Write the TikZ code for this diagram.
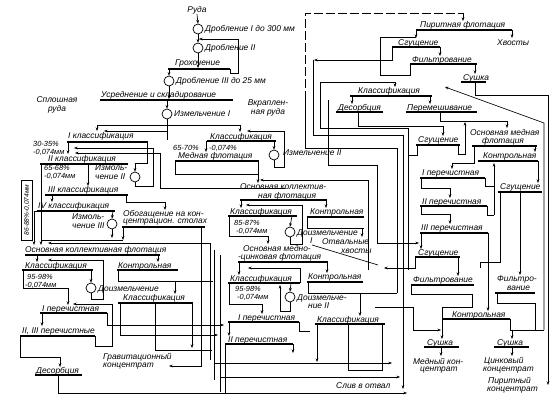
\documentclass[tikz,border=0pt]{standalone}
\usepackage{fontspec}
\setmainfont{Liberation Sans}
\usetikzlibrary{arrows.meta}
\begin{document}
\begin{tikzpicture}[x=1pt,y=-1pt,
 ln/.style={line width=0.65pt},
 ar/.style={line width=0.65pt,-{Stealth[length=3.6pt,width=2.8pt]}},
 br/.style={line width=1.3pt},
 lbl/.style={anchor=west,inner sep=0pt,font=\fontsize{8.4}{9}\selectfont\itshape},
 cl/.style={anchor=center,inner sep=0pt,font=\fontsize{8.4}{9}\selectfont\itshape},
 sm/.style={anchor=west,inner sep=0pt,font=\fontsize{7.4}{8}\selectfont\itshape},
 mill/.style={draw,circle,minimum size=10pt,inner sep=0pt,line width=0.7pt,fill=white}]
\useasboundingbox[fill=white] (0,0) rectangle (558,419);

% ---------- crushing ----------
\node[cl] (tRuda) at (197,10) {Руда};
\node[mill] (c1) at (198,29) {};
\node[lbl] (tDr1) at (205,29) {Дробление I до 300 мм};
\node[mill] (c2) at (198,48) {};
\node[lbl] (tDr2) at (205,48) {Дробление II};
\node[lbl] (tGroh) at (175,63) {Грохочение};
\node[mill] (c3) at (169,81) {};
\node[lbl] (tDr3) at (176,81) {Дробление III до 25 мм};
\node[lbl] (tUsr) at (101,95) {Усреднение и складирование};
\node[mill] (c4) at (167,114) {};
\node[lbl] (tIzm1) at (174,114) {Измельчение I};
\node[cl] (tSpl) at (57,100) {Сплошная};
\node[cl] (tSpl2) at (57,109) {руда};
\node[cl] (tVkr) at (268,103) {Вкраплен-};
\node[cl] (tVkr2) at (268,112) {ная руда};

\draw[br] (168,69) -- (230,69);
\draw[br] (100,100) -- (233,100);
\draw[ar] (tRuda.south) -- (c1.north);
\draw[ar] (c1.south) -- (c2.north);
\draw[ar] (c2.south) -- (198,68);
\draw[ar] (169,69) -- (c3.north);
\draw[ln] (230,69) -- (230,73) -- (238,73) -- (238,39);
\draw[ar] (238,39) -- (199,39);
\draw[ar] (c3.south) -- (169,99);
\draw[ar] (167,100) -- (c4.north);
\draw[ln] (c4.south) -- (167,140);
\draw[ln] (97,125) -- (240,125);
\draw[ar] (97,125) -- (97,131);
\draw[ar] (240,125) -- (240,132);
\draw[ar] (167,131) -- (104,131);

% ---------- pyrite / top right ----------
\node[lbl] (tPir) at (420,25) {Пиритная флотация};
\node[lbl] (tHv) at (497,43) {Хвосты};
\node[lbl] (tSg1) at (398,43) {Сгущение};
\node[lbl] (tF1) at (412,60) {Фильтрование};
\node[lbl] (tSu1) at (463,78) {Сушка};
\node[lbl] (tKl1) at (358,91) {Классификация};
\node[lbl] (tDes1) at (338,108) {Десорбция};
\node[lbl] (tPer) at (407,108) {Перемешивание};
\node[lbl] (tSg2) at (418,140) {Сгущение};
\node[lbl] (tOM) at (470,132) {Основная медная};
\node[lbl] (tOM2) at (482,141) {флотация};
\node[lbl] (tK1) at (483,156) {Контрольная};
\node[lbl] (tP1) at (422,173) {I перечистная};
\node[lbl] (tP2) at (422,202) {II перечистная};
\node[lbl] (tP3) at (421,228) {III перечистная};
\node[lbl] (tSg3) at (500,187) {Сгущение};
\node[lbl] (tSg4) at (418,253) {Сгущение};
\node[lbl] (tF2) at (413,280) {Фильтрование};
\node[lbl] (tF3) at (497,279) {Фильтро-};
\node[lbl] (tF3b) at (507,288) {вание};
\node[lbl] (tK2) at (452,315) {Контрольная};
\node[lbl] (tSu2) at (427,343) {Сушка};
\node[lbl] (tSu3) at (497,343) {Сушка};
\node[lbl] (tMK) at (413,361) {Медный кон-};
\node[lbl] (tMK2) at (420,370) {центрат};
\node[lbl] (tZK) at (484,361) {Цинковый};
\node[lbl] (tZK2) at (483,370) {концентрат};
\node[lbl] (tPK) at (488,381) {Пиритный};
\node[lbl] (tPK2) at (487,390) {концентрат};

\draw[br] (416,30) -- (512,30);
\draw[br] (392,47) -- (440,47);
\draw[br] (410,64) -- (477,64);
\draw[br] (461,82) -- (486,82);
\draw[br] (350,96) -- (432,96);
\draw[br] (336,112) -- (383,112);
\draw[br] (406,112) -- (477,112);
\draw[br] (416,145) -- (460,145);
\draw[br] (472,146) -- (537,146);
\draw[br] (478,161) -- (538,161);
\draw[br] (420,178) -- (485,178);
\draw[br] (420,206) -- (487,206);
\draw[br] (420,233) -- (488,233);
\draw[br] (498,192) -- (542,192);
\draw[br] (415,257) -- (460,257);
\draw[br] (411,285) -- (474,285);
\draw[br] (495,293) -- (535,293);
\draw[br] (442,319) -- (510,319);
\draw[br] (424,347) -- (459,347);
\draw[br] (494,347) -- (529,347);

\draw[ln,dash pattern=on 9pt off 3pt] (305,100) -- (305,13) -- (463,13);
\draw[ln] (397,293) -- (397,148) -- (305,148) -- (305,100);
\draw[ar] (463,13) -- (463,21);
\draw[ar] (416,30) -- (416,38);
\draw[ar] (512,30) -- (512,38);
\draw[ar] (440,47) -- (440,56);
\draw[ar] (392,47) -- (392,60) -- (314,60);
\draw[ln] (410,64) -- (410,75) -- (380,75) -- (380,37) -- (416,37);
\draw[ar] (475,64) -- (475,74);
\draw[ar] (475,82) -- (475,95) -- (548,95) -- (548,385);
\draw[ar] (320,128) -- (320,82) -- (395,82) -- (395,87);
\draw[ar] (544,330) -- (544,123) -- (445,87);
\draw[ar] (352,96) -- (352,104);
\draw[ar] (430,96) -- (430,104);
\draw[ar] (358,112) -- (358,126) -- (443,126) -- (443,136);
\draw[ar] (440,112) -- (440,121) -- (507,121) -- (507,128);
\draw[ar] (458,145) -- (458,154) -- (465,154) -- (465,122);
\draw[ln] (417,145) -- (417,155) -- (408,155);
\draw[ar] (474,146) -- (474,163) -- (452,163) -- (452,169);
\draw[ar] (535,146) -- (535,152);
\draw[ar] (538,161) -- (538,183);
\draw[ar] (421,178) -- (421,188) -- (450,188) -- (450,198);
\draw[ar] (421,206) -- (421,214) -- (450,214) -- (450,224);
\draw[ar] (421,233) -- (421,249);
\draw[ln] (485,178) -- (485,186) -- (494,186);
\draw[ln] (487,206) -- (487,215) -- (494,215);
\draw[ar] (494,215) -- (494,163);
\draw[ar] (488,233) -- (488,311);
\draw[ar] (520,192) -- (520,275);
\draw[ln] (500,192) -- (500,262) -- (480,262) -- (480,268);
\draw[ar] (415,257) -- (415,268) -- (384,268);
\draw[ar] (458,257) -- (458,276);
\draw[ln] (411,285) -- (411,294) -- (472,294) -- (472,307) -- (442,307);
\draw[ar] (442,307) -- (442,339);
\draw[ln] (375,307) -- (413,307) -- (413,330);
\draw[ar] (413,330) -- (441,330);
\draw[ln] (497,293) -- (497,303) -- (535,303) -- (535,330) -- (544,330);
\draw[ln] (510,319) -- (510,330) -- (535,330);
\draw[ar] (512,330) -- (512,339);
\draw[ar] (441,347) -- (441,356);
\draw[ar] (512,347) -- (512,356);

% central right bus
\draw[ln] (313,60) -- (313,135) -- (403,135);
\draw[ar] (403,135) -- (403,389);
\draw[ln] (320,128) -- (408,128) -- (408,270);
\draw[ln] (328,100) -- (328,165) -- (377,165);
\draw[ar] (377,165) -- (377,243) -- (419,243);
\draw[ar] (368,270) -- (368,180) -- (260,180);

% ---------- middle ----------
\node[lbl] (tKl2) at (210,137) {Классификация};
\node[sm] (t6570) at (173,148) {65-70\%};
\node[sm] (t6570b) at (209,148) {-0,074\%};
\node[lbl] (tMF) at (178,156) {Медная флотация};
\node[mill] (c5) at (274,155) {};
\node[lbl] (tIzm2) at (283,153) {Измельчение II};
\node[lbl] (tOK1) at (240,187) {Основная коллектив-};
\node[lbl] (tOK1b) at (258,196) {ная флотация};
\node[lbl] (tKl3) at (230,212) {Классификация};
\node[sm] (t8587) at (234,223) {85-87\%};
\node[sm] (t8587b) at (236,231) {-0,074мм};
\node[mill] (c6) at (290,232) {};
\node[lbl] (tDo1) at (297,233) {Доизмельчение};
\node[lbl] (tDo1b) at (310,241) {I};
\node[lbl] (tK3) at (310,212) {Контрольная};
\node[lbl] (tOtv) at (322,242) {Отвальные};
\node[lbl] (tOtv2) at (341,251) {хвосты};
\node[lbl] (tMC) at (243,248) {Основная медно-};
\node[lbl] (tMC2) at (238,257) {-цинковая флотация};
\node[lbl] (tKl4) at (230,279) {Классификация};
\node[sm] (t9598) at (235,289) {95-98\%};
\node[sm] (t9598b) at (237,297) {-0,074мм};
\node[mill] (c7) at (290,297) {};
\node[lbl] (tDo2) at (297,298) {Доизмельче-};
\node[lbl] (tDo2b) at (308,306) {ние II};
\node[lbl] (tK4) at (308,277) {Контрольная};
\node[lbl] (tKl5) at (317,320) {Классификация};
\node[lbl] (tP4) at (238,318) {I перечистная};
\node[lbl] (tP5) at (228,340) {II перечистная};
\node[lbl] (tSliv) at (336,386) {Слив в отвал};

\draw[br] (207,141) -- (276,141);
\draw[br] (175,161) -- (259,161);
\draw[br] (240,200) -- (327,200);
\draw[br] (228,216) -- (297,216);
\draw[br] (307,217) -- (364,217);
\draw[br] (238,262) -- (328,262);
\draw[br] (228,283) -- (300,283);
\draw[br] (307,282) -- (363,282);
\draw[br] (315,324) -- (385,324);
\draw[br] (228,322) -- (299,322);
\draw[br] (225,344) -- (293,344);

\draw[ar] (206,141) -- (206,152);
\draw[ar] (274,141) -- (c5.north);
\draw[ln] (c5.south) -- (274,167) -- (284,167) -- (284,131);
\draw[ar] (284,131) -- (247,131);
\draw[ln] (175,161) -- (175,174) -- (258,174);
\draw[ar] (258,161) -- (258,183);
\draw[ar] (241,200) -- (241,208);
\draw[ar] (326,200) -- (326,208);
\draw[ar] (292,216) -- (c6.north);
\draw[ln] (c6.south) -- (290,244) -- (302,244) -- (302,205);
\draw[ar] (302,205) -- (246,205);
\draw[ar] (229,216) -- (229,236) -- (268,236) -- (268,244);
\draw[ln] (307,217) -- (307,228) -- (364,228);
\draw[ar] (362,228) -- (362,237);
\draw[ln] (312,245) -- (378,265);
\draw[ar] (239,262) -- (239,275);
\draw[ar] (327,262) -- (327,273);
\draw[ar] (291,283) -- (c7.north);
\draw[ln] (300,283) -- (300,268);
\draw[ar] (300,268) -- (248,268);
\draw[ln] (c7.south) -- (290,311) -- (280,311);
\draw[ar] (280,311) -- (280,285);
\draw[ar] (229,283) -- (229,304) -- (262,304) -- (262,314);
\draw[ln] (308,282) -- (308,293) -- (397,293);
\draw[ar] (360,293) -- (360,316);
\draw[ar] (317,324) -- (317,362);
\draw[ln] (348,324) -- (348,370) -- (382,370) -- (382,324);
\draw[ar] (229,322) -- (229,336);
\draw[ln] (299,322) -- (299,331) -- (310,331);
\draw[ar] (293,344) -- (293,353);
\draw[ln] (225,344) -- (225,393);
\draw[ar] (214,363) -- (392,363);
\draw[ar] (220,377) -- (400,377);

% ---------- left ----------
\node[lbl] (tKlI) at (68,136) {I классификация};
\node[sm] (t3035) at (33,144) {30-35\%};
\node[sm] (t3035b) at (33,152) {-0,074мм};
\node[lbl] (tKlII) at (48,159) {II классификация};
\node[sm] (t6568) at (44,168) {65-68\%};
\node[sm] (t6568b) at (44,176) {-0,074мм};
\node[lbl] (tIzmII) at (95,168) {Измоль-};
\node[lbl] (tIzmIIb) at (95,177) {чение II};
\node[mill] (c8) at (135,177) {};
\node[lbl] (tKlIII) at (48,190) {III классификация};
\node[lbl] (tKlIV) at (38,206) {IV классификация};
\node[lbl] (tIzmIII) at (72,217) {Измоль-};
\node[lbl] (tIzmIIIb) at (72,226) {чение III};
\node[mill] (c9) at (112,224) {};
\node[lbl] (tOb) at (123,214) {Обогащение на кон-};
\node[lbl] (tOb2) at (123,222) {центрацион. столах};
\node[anchor=center,inner sep=0pt,font=\fontsize{6.6}{7}\selectfont\itshape,rotate=90] (t8688) at (27,210) {86-88\%-0,074мм};
\node[lbl] (tOKF) at (25,250) {Основная коллективная флотация};
\node[lbl] (tKl6) at (25,266) {Классификация};
\node[sm] (t9598L) at (27,277) {95-98\%};
\node[sm] (t9598Lb) at (25,285) {-0,074мм};
\node[mill] (c10) at (91,288) {};
\node[lbl] (tDo3) at (98,289) {Доизмельчение};
\node[lbl] (tK5) at (118,266) {Контрольная};
\node[lbl] (tKl7) at (123,298) {Классификация};
\node[lbl] (tP6) at (42,309) {I перечистная};
\node[lbl] (tP7) at (22,331) {II, III перечистные};
\node[lbl] (tGr) at (103,357) {Гравитационный};
\node[lbl] (tGr2) at (103,366) {концентрат};
\node[lbl] (tDes2) at (36,371) {Десорбция};

\draw[br] (67,142) -- (148,142);
\draw[br] (40,164) -- (128,164);
\draw[br] (45,195) -- (128,195);
\draw[br] (37,211) -- (115,211);
\draw[br] (122,227) -- (205,227);
\draw[br] (25,255) -- (160,255);
\draw[br] (22,270) -- (93,270);
\draw[br] (117,270) -- (178,270);
\draw[br] (118,303) -- (193,303);
\draw[br] (40,313) -- (107,313);
\draw[br] (20,336) -- (95,336);
\draw[br] (35,375) -- (82,375);

\draw[ar] (68,142) -- (68,154);
\draw[ln] (147,142) -- (147,163) -- (135,163);
\draw[ar] (135,163) -- (c8.north);
\draw[ln] (c8.south) -- (135,186) -- (153,186) -- (153,148);
\draw[ar] (153,148) -- (74,148);
\draw[ar] (285,188) -- (160,188) -- (160,153) -- (75,153);
\draw[ar] (41,164) -- (41,245);
\draw[ar] (88,164) -- (88,186);
\draw[ar] (52,195) -- (52,202);
\draw[ln] (126,195) -- (126,202) -- (165,202);
\draw[ar] (165,202) -- (165,210);
\draw[ar] (113,211) -- (c9.north);
\draw[ar] (c9.south) -- (112,238);
\draw[ln] (21,180) rectangle (32,240);
\draw[ar] (34,211) -- (34,245);
\draw[ln] (34,211) -- (37,211);
\draw[ln] (41,240) -- (123,240);
\draw[ar] (123,227) -- (123,240);
\draw[ar] (201,227) -- (201,366) -- (169,366);
\draw[ar] (210,243) -- (48,243);
\draw[ln] (210,243) -- (210,360);
\draw[ln] (214,250) -- (214,380);
\draw[ln] (220,255) -- (220,392);
\draw[ar] (37,255) -- (37,262);
\draw[ar] (158,255) -- (158,262);
\draw[ar] (23,270) -- (23,288) -- (68,288) -- (68,305);
\draw[ar] (91,270) -- (c10.north);
\draw[ln] (c10.south) -- (91,299) -- (103,299) -- (103,260);
\draw[ar] (103,260) -- (48,260);
\draw[ln] (118,270) -- (118,281) -- (213,281);
\draw[ar] (175,281) -- (175,294);
\draw[ln] (120,303) -- (120,335);
\draw[ln] (155,303) -- (155,350);
\draw[ar] (192,303) -- (192,348);
\draw[ar] (112,325) -- (224,325);
\draw[ar] (120,335) -- (218,335);
\draw[ln] (155,350) -- (212,350);
\draw[ar] (42,313) -- (42,326);
\draw[ln] (107,313) -- (107,325) -- (112,325);
\draw[ln] (20,336) -- (20,357) -- (60,357);
\draw[ar] (60,357) -- (60,367);
\draw[ln] (95,336) -- (95,346) -- (112,346) -- (112,304);
\draw[ar] (112,304) -- (73,304);
\draw[ar] (58,375) -- (58,393) -- (407,393);
\end{tikzpicture}
\end{document}
